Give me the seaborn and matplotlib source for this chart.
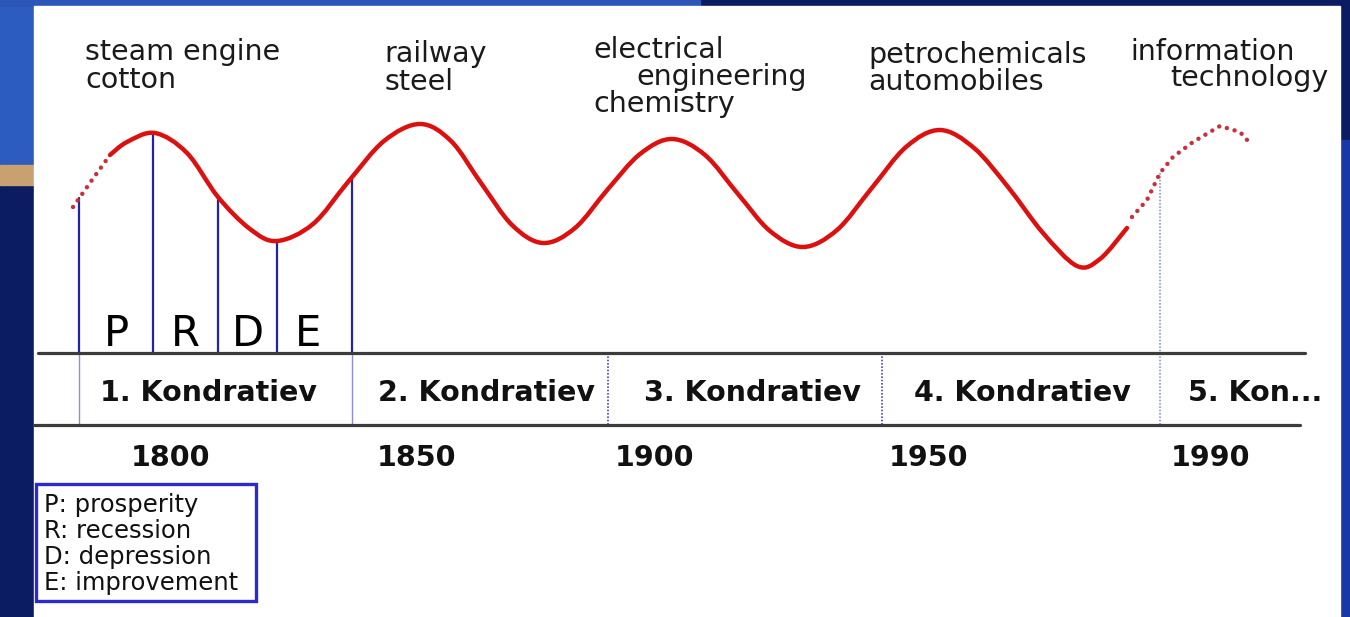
import numpy as np
import pandas as pd
import matplotlib
matplotlib.use("Agg")
import matplotlib.pyplot as plt
import seaborn as sns
from matplotlib.patches import Rectangle, PathPatch
from matplotlib.path import Path

# wave (pixel units, y grows downward)
past_x = [73, 92, 110]
past_y = [207, 180, 155]
main_x = [110, 127, 155, 187, 218, 250, 277, 313, 348, 384, 420, 451, 481, 512, 543,
          575, 608, 640, 672, 705, 738, 770, 803, 837, 871, 906, 940, 974, 1008, 1043,
          1077, 1100, 1127]
main_y = [155, 142, 133, 153, 197, 229, 241, 224, 182, 141, 124, 141, 183, 225, 243,
          228, 189, 154, 139, 155, 194, 231, 247, 230, 189, 147, 130, 148, 187, 233,
          266, 259, 228]
future_x = [1132, 1147, 1160, 1173, 1193, 1220, 1240, 1248]
future_y = [217, 200, 173, 157, 142, 126, 132, 141]

phase_x = [79, 153, 218, 277, 352]
phase_labels = ["P", "R", "D", "E"]

wave_bounds = [79, 352, 608, 882, 1160]
wave_names = ["1. Kondratiev", "2. Kondratiev", "3. Kondratiev", "4. Kondratiev", "5. Kon..."]
wave_name_x = [209, 487, 753, 1022, 1255]
years = ["1800", "1850", "1900", "1950", "1990"]
year_x = [170, 417, 654, 928, 1211]

innovations = [
    ("steam engine", 85, 60), ("cotton", 85, 88),
    ("railway", 384, 62), ("steel", 384, 90),
    ("electrical", 593, 58), ("engineering", 636, 85), ("chemistry", 593, 112),
    ("petrochemicals", 868, 63), ("automobiles", 868, 90),
    ("information", 1130, 60), ("technology", 1170, 86),
]
legend_lines = ["P: prosperity", "R: recession", "D: depression", "E: improvement"]

all_x = past_x + main_x[1:] + future_x
all_y = past_y + main_y[1:] + future_y
dotted = pd.concat([
    pd.DataFrame({"x": past_x, "y": past_y, "part": "past"}),
    pd.DataFrame({"x": future_x, "y": future_y, "part": "future"}),
])


def smooth_path(xs, ys):
    # catmull-rom through the read points, drawn as bezier curves
    pts = np.column_stack([xs, ys]).astype(float)
    pts_ext = np.vstack([pts[0], pts, pts[-1]])
    verts = [pts[0]]
    codes = [Path.MOVETO]
    for i in range(1, len(pts_ext) - 2):
        p0, p1, p2, p3 = pts_ext[i - 1], pts_ext[i], pts_ext[i + 1], pts_ext[i + 2]
        verts += [p1 + (p2 - p0) / 6, p2 - (p3 - p1) / 6, p2]
        codes += [Path.CURVE4] * 3
    return Path(verts, codes)


sns.set_style("white")
fig = plt.figure(figsize=(13.5, 6.17), dpi=100)
fig.patch.set_facecolor("#0b1c62")
ax = fig.add_axes([0, 0, 1, 1])

# slide background bits
ax.add_patch(Rectangle((0, 0), 34, 165, color="#2d5cc0", zorder=0))
ax.add_patch(Rectangle((0, 165), 34, 20, color="#c9a070", zorder=0))
ax.add_patch(Rectangle((0, 0), 700, 6, color="#2c56b8", zorder=0))
ax.add_patch(Rectangle((1340, 140), 10, 477, color="#1838a8", zorder=0))
ax.add_patch(Rectangle((34, 6), 1306, 611, color="white", zorder=1))

# dotted ends of the wave
for part in ["past", "future"]:
    seg = dotted[dotted["part"] == part]
    sns.lineplot(data=seg, x="x", y="y", sort=False, color="#c8303c", lw=3.2,
                 linestyle=(0, (0.01, 1.8)), dash_capstyle="round", ax=ax,
                 zorder=5, legend=False)

# solid main wave
ax.add_patch(PathPatch(smooth_path(main_x, main_y), fill=False, edgecolor="#dd1010",
                       lw=3.2, capstyle="round", zorder=5))

ax.set_xlim(0, 1350)
ax.set_ylim(617, 0)
ax.axis("off")

base_top, base_bot = 353, 425

# phase lines of the first wave
for px in phase_x:
    top = np.interp(px, all_x, all_y)
    ax.plot([px, px], [top, base_top], color="#2323a8", lw=1.6, zorder=3)
for i, lab in enumerate(phase_labels):
    cx = (phase_x[i] + phase_x[i + 1]) / 2
    if lab == "E":
        cx -= 6
    ax.text(cx, 346, lab, fontsize=30, ha="center", va="baseline", color="black", zorder=4)

# wave boundaries in the band
for i, bx in enumerate(wave_bounds):
    if i in (0, 1):
        ax.plot([bx, bx], [base_top, base_bot], color="#8c8cdc", lw=1.0, zorder=3)
    elif i == 4:
        top = np.interp(bx, all_x, all_y)
        ax.plot([bx, bx], [top, base_bot], color="#8a9ad8", lw=1.2,
                linestyle=(0, (1, 1)), zorder=3)
    else:
        ax.plot([bx, bx], [base_top, base_bot], color="#4848c0", lw=1.2,
                linestyle=(0, (1, 1)), zorder=3)

ax.plot([38, 1305], [base_top, base_top], color="#3c3c3c", lw=2.3, zorder=4)
ax.plot([34, 1300], [base_bot, base_bot], color="#3c3c3c", lw=2.3, zorder=4)

for name, nx in zip(wave_names, wave_name_x):
    ax.text(nx, 401, name, fontsize=20.5, fontweight="bold", ha="center",
            va="baseline", color="#111111", zorder=4)
for yr, yx in zip(years, year_x):
    ax.text(yx, 466, yr, fontsize=20.5, fontweight="bold", ha="center",
            va="baseline", color="#111111", zorder=4)

for txt, tx, ty in innovations:
    ax.text(tx, ty, txt, fontsize=20.5, ha="left", va="baseline", color="#1a1a1a", zorder=4)

# legend box
ax.add_patch(Rectangle((36, 484), 220, 117, fill=False, edgecolor="#2a2ad0", lw=2.4, zorder=4))
for i, line in enumerate(legend_lines):
    ax.text(44, 512 + i * 26, line, fontsize=17.5, ha="left", va="baseline",
            color="#111111", zorder=4)

fig.savefig("out.png", dpi=100, facecolor=fig.get_facecolor())
